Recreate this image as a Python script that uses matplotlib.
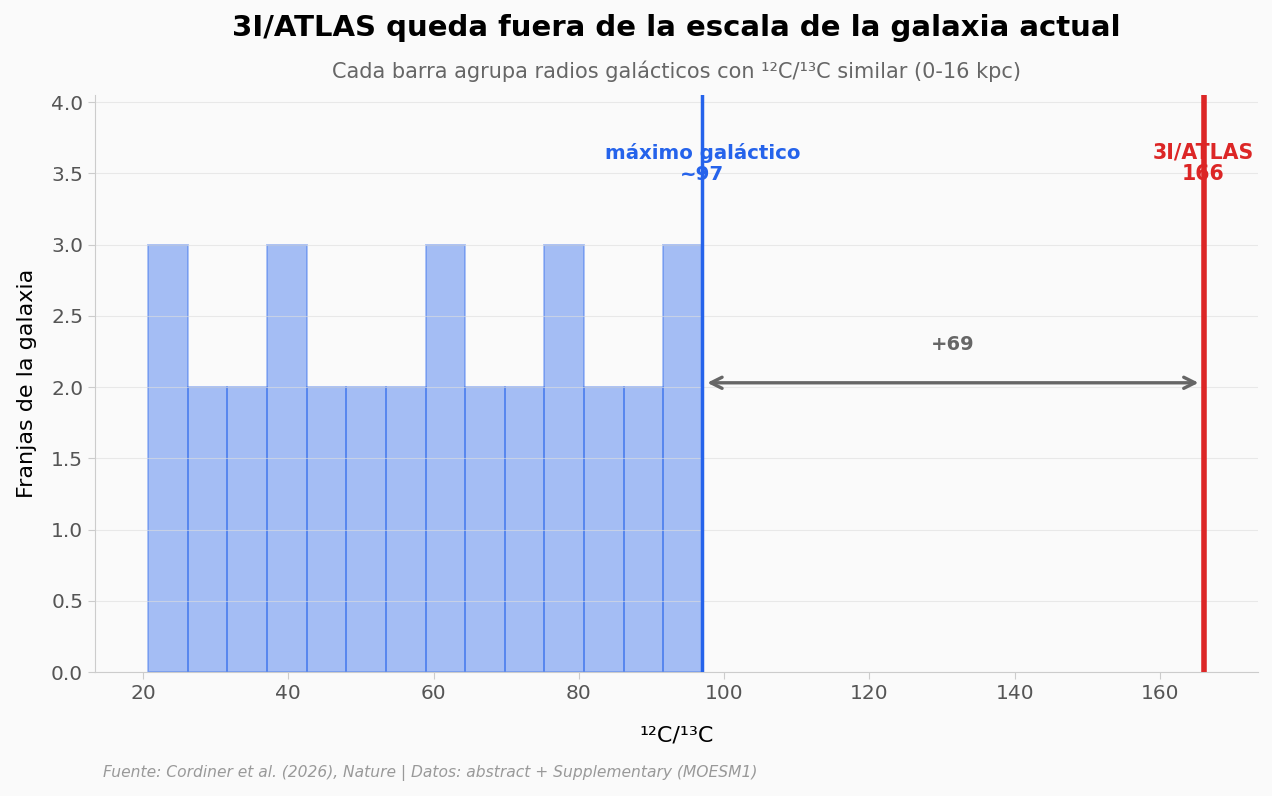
import matplotlib.pyplot as plt
import numpy as np

# histogram of 12C/13C across galactocentric radius bands (0-16 kpc)
bin_lo = 20.7
bin_hi = 97.1
counts = [3, 2, 2, 3, 2, 2, 2, 3, 2, 2, 3, 2, 2, 3]
galaxy_max = 97
atlas_ratio = 166
gap_label = '+69'

blue = '#2563eb'
red = '#dc2626'

edges = np.linspace(bin_lo, bin_hi, len(counts) + 1)

fig, ax = plt.subplots(figsize=(12.72, 7.96), dpi=100)
fig.patch.set_facecolor('#fafafa')
ax.set_facecolor('#fafafa')

ax.hist(edges[:-1], bins=edges, weights=counts, color=blue, alpha=0.4,
        edgecolor=blue, linewidth=1.3)

ax.axvline(galaxy_max, color=blue, lw=2.5, zorder=3)
ax.axvline(atlas_ratio, color=red, lw=4, zorder=3)

ax.text(galaxy_max, 3.57, 'máximo galáctico\n~%d' % galaxy_max, color=blue,
        fontsize=14.2, fontweight='bold', ha='center', va='center', linespacing=1.15)
ax.text(atlas_ratio, 3.57, '3I/ATLAS\n%d' % atlas_ratio, color=red,
        fontsize=14.8, fontweight='bold', ha='center', va='center', linespacing=1.1)

ax.annotate('', xy=(atlas_ratio - 0.3, 2.03), xytext=(galaxy_max + 0.3, 2.03),
            arrowprops=dict(arrowstyle='<->', color='#666666', lw=2.4,
                            mutation_scale=20))
ax.text((galaxy_max + atlas_ratio) / 2, 2.3, gap_label, color='#666666',
        fontsize=14, fontweight='bold', ha='center', va='center')

ax.set_xlim(13.4, 173.5)
ax.set_ylim(0, 4.05)
ax.set_yticks(np.arange(0, 4.01, 0.5))
ax.yaxis.grid(True, color='#dddddd', alpha=0.6, lw=0.8)
ax.xaxis.grid(False)

for s in ['top', 'right']:
    ax.spines[s].set_visible(False)
for s in ['left', 'bottom']:
    ax.spines[s].set_color('#cccccc')
ax.tick_params(colors='#cccccc', labelcolor='#555555', labelsize=14.5, length=5)

ax.set_xlabel('¹²C/¹³C', fontsize=16, labelpad=16)
ax.set_ylabel('Franjas de la galaxia', fontsize=16, labelpad=10)

ax.set_title('Cada barra agrupa radios galácticos con ¹²C/¹³C similar (0-16 kpc)',
             fontsize=15, color='#666666', pad=12)
ax.text(0.5, 1.116, '3I/ATLAS queda fuera de la escala de la galaxia actual',
        transform=ax.transAxes, fontsize=21, fontweight='bold', ha='center',
        va='center')

fig.text(103 / 1272, 1 - 773 / 796,
         'Fuente: Cordiner et al. (2026), Nature | Datos: abstract + Supplementary (MOESM1)',
         fontsize=11.2, color='#999999', style='italic', va='center')

fig.subplots_adjust(left=95 / 1272, right=1258 / 1272, top=1 - 95 / 796,
                    bottom=1 - 672 / 796)
fig.savefig('out.png', dpi=100, facecolor=fig.get_facecolor())
